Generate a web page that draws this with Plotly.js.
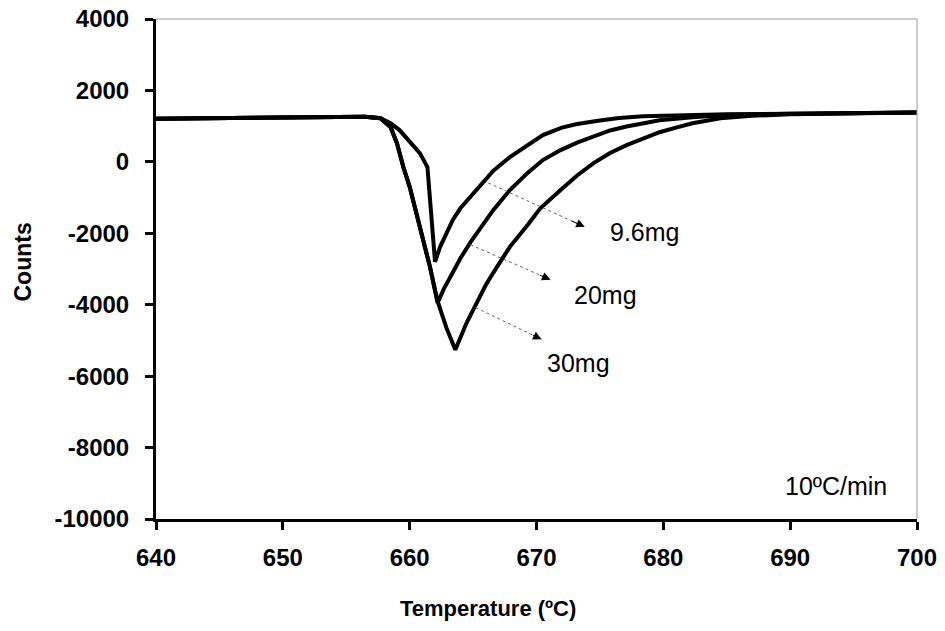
<!DOCTYPE html>
<html>
<head>
<meta charset="utf-8">
<script src="https://cdn.plot.ly/plotly-3.0.1.min.js"></script>
<style>html,body{margin:0;padding:0;background:#fff;}#chart{width:945px;height:631px;}</style>
</head>
<body>
<div id="chart"></div>
<script>
// ---- data ----
var t96 = [640, 645, 650, 655, 656.5, 657.7, 658.5, 659.2, 660.0, 660.8, 661.4, 661.6, 661.8, 662.0, 662.4, 663.0, 663.4, 664.0, 665.3, 666.6, 667.9, 669.3, 670.5, 672.0, 673.2, 675.0, 676.5, 678.4, 681, 685, 690, 695, 700];
var c96 = [1210, 1225, 1240, 1260, 1265, 1220, 1080, 890, 580, 245, -145, -1070, -1990, -2800, -2380, -1900, -1625, -1300, -790, -250, 133, 480, 750, 960, 1060, 1160, 1230, 1280, 1310, 1330, 1350, 1370, 1385];

var t20 = [640, 645, 650, 655, 656.5, 657.7, 658.5, 659.0, 659.5, 660.0, 660.6, 661.1, 661.6, 662.2, 662.7, 663.4, 664.0, 664.8, 665.3, 666.6, 667.9, 669.3, 670.5, 671.9, 673.2, 674.5, 675.8, 677.1, 678.4, 679.7, 682.3, 685, 690, 695, 700];
var c20 = [1210, 1225, 1240, 1260, 1265, 1220, 970, 520, -145, -700, -1540, -2250, -2940, -3950, -3550, -3100, -2700, -2250, -2000, -1346, -790, -310, 50, 330, 540, 720, 880, 990, 1090, 1165, 1250, 1310, 1345, 1365, 1385];

var t30 = [640, 645, 650, 655, 656.5, 657.7, 658.5, 659.0, 659.5, 660.0, 660.6, 661.1, 661.6, 662.2, 662.9, 663.6, 664.0, 664.5, 665.0, 665.5, 666.0, 666.6, 667.9, 669.3, 670.3, 671.9, 673.2, 674.5, 675.8, 677.1, 678.4, 679.7, 681, 682.3, 684.5, 687, 690, 695, 700];
var c30 = [1210, 1225, 1240, 1260, 1265, 1220, 970, 520, -145, -700, -1540, -2250, -2940, -3900, -4650, -5260, -4900, -4500, -4150, -3780, -3450, -3100, -2380, -1765, -1300, -790, -380, -35, 250, 470, 660, 830, 960, 1080, 1220, 1290, 1330, 1365, 1385];

var labels = ['9.6mg', '20mg', '30mg'];
var labelX = [675.6, 672.8, 670.7];
var labelY = [-1960, -3720, -5620];
var arrowTailX = [666.2, 664.8, 665.2];
var arrowTailY = [-590, -2320, -4080];
var arrowHeadX = [673.8, 671.1, 670.4];
var arrowHeadY = [-1820, -3300, -4970];
var rateText = '10ºC/min';
var rateX = 693.6, rateY = -9080;
var xTitle = 'Temperature (ºC)';
var yTitle = 'Counts';

var xTicks = [640, 650, 660, 670, 680, 690, 700];
var yTicks = [-10000, -8000, -6000, -4000, -2000, 0, 2000, 4000];

// ---- traces ----
var FONT = 'Liberation Sans, Arial, sans-serif';
var lineStyle = {color: '#000', width: 4};
var traces = [
  {x: t96, y: c96, mode: 'lines', line: lineStyle, name: '9.6mg', hoverinfo: 'skip'},
  {x: t20, y: c20, mode: 'lines', line: lineStyle, name: '20mg', hoverinfo: 'skip'},
  {x: t30, y: c30, mode: 'lines', line: lineStyle, name: '30mg', hoverinfo: 'skip'}
];

var shapes = [
  {type: 'line', xref: 'paper', yref: 'paper', x0: 0, y0: 1, x1: 1, y1: 1, line: {color: '#9a9a9a', width: 1}},
  {type: 'line', xref: 'paper', yref: 'paper', x0: 1, y0: 0, x1: 1, y1: 1, line: {color: '#9a9a9a', width: 1}}
];
var annotations = [];
for (var i = 0; i < labels.length; i++) {
  shapes.push({type: 'line', xref: 'x', yref: 'y', x0: arrowTailX[i], y0: arrowTailY[i], x1: arrowHeadX[i], y1: arrowHeadY[i],
    line: {color: '#666', width: 1, dash: 'dot'}});
  annotations.push({x: arrowHeadX[i], y: arrowHeadY[i], xref: 'x', yref: 'y',
    ax: arrowHeadX[i] - 0.15 * (arrowHeadX[i] - arrowTailX[i]), ay: arrowHeadY[i] - 0.15 * (arrowHeadY[i] - arrowTailY[i]),
    axref: 'x', ayref: 'y', showarrow: true, arrowhead: 2, arrowsize: 1.7, arrowwidth: 1, arrowcolor: '#000', text: ''});
  annotations.push({x: labelX[i], y: labelY[i], xref: 'x', yref: 'y', xanchor: 'left', yanchor: 'middle',
    text: labels[i], showarrow: false, font: {family: FONT, size: 25, color: '#000'}});
}
annotations.push({x: rateX, y: rateY, xref: 'x', yref: 'y', xanchor: 'center', yanchor: 'middle', text: rateText,
  showarrow: false, font: {family: FONT, size: 25, color: '#000'}});
// axis titles (placed as in the reference, x title left of centre)
annotations.push({x: 0.436, y: -0.178, xref: 'paper', yref: 'paper', xanchor: 'center', yanchor: 'middle',
  text: '<b>' + xTitle + '</b>', showarrow: false, font: {family: FONT, size: 22, color: '#000'}});
annotations.push({x: -0.1754, y: 0.514, xref: 'paper', yref: 'paper', xanchor: 'center', yanchor: 'middle', textangle: -90,
  text: '<b>' + yTitle + '</b>', showarrow: false, font: {family: FONT, size: 23, color: '#000'}});

var tickFont = {family: FONT, size: 24, color: '#000', weight: 'bold'};
var layout = {
  width: 945, height: 631,
  margin: {l: 156, r: 28, t: 19, b: 112, pad: 0},
  paper_bgcolor: '#fff', plot_bgcolor: '#fff',
  showlegend: false,
  xaxis: {
    range: [640, 700], tickvals: xTicks, ticktext: xTicks.map(String),
    showline: true, linewidth: 3, linecolor: '#000', ticks: 'outside', ticklen: 8, tickwidth: 3, tickcolor: '#000',
    showgrid: false, zeroline: false, tickfont: tickFont, ticklabelstandoff: 7
  },
  yaxis: {
    range: [-10000, 4000], tickvals: yTicks, ticktext: yTicks.map(String),
    showline: true, linewidth: 3, linecolor: '#000', ticks: 'outside', ticklen: 8, tickwidth: 3, tickcolor: '#000',
    showgrid: false, zeroline: false, tickfont: tickFont, ticklabelstandoff: 11
  },
  shapes: shapes,
  annotations: annotations
};
Plotly.newPlot('chart', traces, layout, {staticPlot: true, displayModeBar: false});
</script>
</body>
</html>
